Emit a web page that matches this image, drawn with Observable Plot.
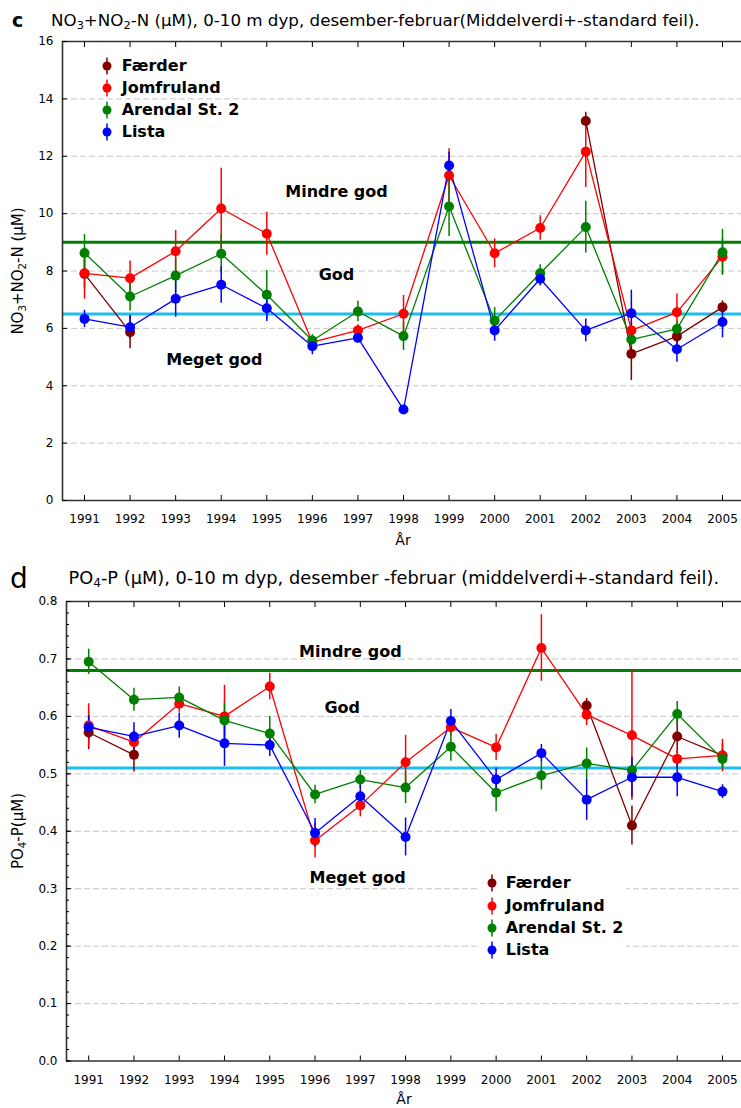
<!DOCTYPE html>
<html><head><meta charset="utf-8">
<script src="https://cdn.jsdelivr.net/npm/d3@7"></script>
<script src="https://cdn.jsdelivr.net/npm/@observablehq/plot@0.6"></script>
<style>
body{margin:0;background:#fff;}
#root{position:relative;width:741px;height:1108px;overflow:hidden;font-family:"DejaVu Sans",sans-serif;color:#000;}
.abs{position:absolute;white-space:nowrap;line-height:1;}
.sub{font-size:0.68em;position:relative;top:0.28em;}
.legend{position:absolute;background:#fff;}
.lrow{position:absolute;white-space:nowrap;font-weight:bold;font-size:16px;line-height:16px;}
.lmark{position:absolute;}
</style></head>
<body><div id="root"></div>
<script>
// ---- data ----
const years = [1991,1992,1993,1994,1995,1996,1997,1998,1999,2000,2001,2002,2003,2004,2005];
const stations = ["Færder","Jomfruland","Arendal St. 2","Lista"];
const stationColors = ["#800000","#ff0000","#008000","#0000ff"];

// NO3+NO2-N (µM), means and standard errors
const no3Faerder     = [7.90, 5.87, null, null, null, null, null, null, null, null, null, 13.23, 5.11, 5.72, 6.74];
const no3FaerderSE   = [0.50, 0.58, null, null, null, null, null, null, null, null, null, 0.30, 0.93, 0.30, 0.22];
const no3Jomfruland  = [7.92, 7.75, 8.69, 10.18, 9.30, 5.52, 5.93, 6.51, 11.33, 8.62, 9.50, 12.16, 5.93, 6.56, 8.50];
const no3JomfrulandSE= [0.90, 0.60, 0.72, 1.40, 0.75, 0.20, 0.20, 0.64, 0.93, 0.50, 0.43, 1.25, 0.30, 0.64, 0.62];
const no3Arendal     = [8.63, 7.11, 7.84, 8.60, 7.17, 5.58, 6.59, 5.73, 10.25, 6.27, 7.92, 9.53, 5.61, 5.98, 8.65];
const no3ArendalSE   = [0.64, 0.50, 0.60, 0.67, 0.85, 0.20, 0.36, 0.50, 1.05, 0.46, 0.30, 0.90, 0.25, 0.25, 0.80];
const no3Lista       = [6.33, 6.04, 7.03, 7.52, 6.70, 5.38, 5.67, 3.17, 11.68, 5.93, 7.73, 5.93, 6.53, 5.27, 6.22];
const no3ListaSE     = [0.30, 0.40, 0.64, 0.64, 0.46, 0.30, 0.15, 0.15, 0.46, 0.38, 0.25, 0.40, 0.80, 0.45, 0.55];
const no3Limits = [9, 6.5];
const no3Ticks = [0,2,4,6,8,10,12,14,16];
const no3Notes = [
  {label:"Mindre god", year:1996.53, value:10.77},
  {label:"God", year:1996.53, value:7.88},
  {label:"Meget god", year:1993.85, value:4.91}
];

// PO4-P (µM), means and standard errors
const po4Faerder     = [0.572, 0.533, null, null, null, null, null, null, null, null, null, 0.619, 0.410, 0.565, 0.532];
const po4FaerderSE   = [0.030, 0.030, null, null, null, null, null, null, null, null, null, 0.012, 0.034, 0.030, 0.020];
const po4Jomfruland  = [0.584, 0.555, 0.622, 0.600, 0.652, 0.384, 0.445, 0.520, 0.581, 0.546, 0.719, 0.603, 0.567, 0.526, 0.532];
const po4JomfrulandSE= [0.038, 0.020, 0.015, 0.054, 0.023, 0.030, 0.020, 0.047, 0.015, 0.023, 0.058, 0.019, 0.113, 0.015, 0.028];
const po4Arendal     = [0.695, 0.629, 0.633, 0.593, 0.570, 0.464, 0.490, 0.476, 0.547, 0.467, 0.497, 0.518, 0.506, 0.604, 0.526];
const po4ArendalSE   = [0.022, 0.020, 0.018, 0.030, 0.030, 0.016, 0.016, 0.028, 0.025, 0.033, 0.025, 0.027, 0.015, 0.022, 0.015];
const po4Lista       = [0.581, 0.565, 0.584, 0.553, 0.550, 0.397, 0.461, 0.390, 0.592, 0.490, 0.536, 0.455, 0.494, 0.494, 0.469];
const po4ListaSE     = [0.020, 0.024, 0.022, 0.040, 0.020, 0.025, 0.020, 0.033, 0.020, 0.020, 0.015, 0.036, 0.035, 0.034, 0.012];
const po4Limits = [0.68, 0.51];
const po4Ticks = [0,0.1,0.2,0.3,0.4,0.5,0.6,0.7,0.8];
const po4Notes = [
  {label:"Mindre god", year:1996.78, value:0.713},
  {label:"God", year:1996.60, value:0.615},
  {label:"Meget god", year:1996.94, value:0.318}
];

// ---- chart builder ----
function buildRows(values, errors) {
  const rows = [];
  stations.forEach((s, i) => years.forEach((y, j) =>
    rows.push({station: s, year: y, value: values[i][j], se: errors[i][j]})));
  return rows;
}

function makeChart(cfg) {
  const rows = buildRows(cfg.values, cfg.errors);
  const ok = rows.filter(d => d.value != null);
  const marks = [
    Plot.ruleY(cfg.ticks.slice(1, -1), {stroke:"#c6c6c6", strokeWidth:1, strokeDasharray:"6,3"}),
    Plot.ruleY([cfg.limits[0]], {stroke:"#008000", strokeWidth:3}),
    Plot.ruleY([cfg.limits[1]], {stroke:"#1cbdf0", strokeWidth:3}),
    Plot.text(cfg.notes, {x:"year", y:"value", text:"label", fontWeight:"bold", fontSize:16, fill:"#000"}),
    Plot.ruleX(ok, {x:"year", y1:d => d.value - d.se, y2:d => d.value + d.se, stroke:"station", strokeWidth:1.5}),
    Plot.line(rows, {x:"year", y:"value", z:"station", stroke:"station", strokeWidth:1.3}),
    Plot.dot(ok, {x:"year", y:"value", fill:"station", r:5}),
    Plot.ruleY([cfg.ticks[0], cfg.ticks[cfg.ticks.length - 1]], {stroke:"#333", strokeWidth:1.6}),
    Plot.ruleX([cfg.xDomain[0]], {stroke:"#333", strokeWidth:1.6}),
    Plot.axisY({ticks: cfg.ticks, tickSize:-5, tickPadding:14, tickFormat: cfg.yFormat, label:null, fontSize:12}),
    Plot.axisX({anchor:"bottom", ticks: years, tickSize:-5, tickPadding:19, tickFormat: d => String(d), label:null, fontSize:12}),
    Plot.axisX({anchor:"top", ticks: years, tickSize:-5, tickFormat: () => "", label:null})
  ];
  if (cfg.minor) marks.push(Plot.axisY({ticks: cfg.minor, tickSize:-3, tickFormat: () => "", label:null}));
  const svg = Plot.plot({
    width:741, height:cfg.height,
    marginTop:9, marginBottom:cfg.marginBottom, marginLeft:cfg.marginLeft, marginRight:0,
    x:{type:"linear", domain:cfg.xDomain},
    y:{domain:[cfg.ticks[0], cfg.ticks[cfg.ticks.length - 1]]},
    color:{domain:stations, range:stationColors},
    style:{fontFamily:"DejaVu Sans", fontSize:"12px", background:"transparent", color:"#000", overflow:"visible"},
    marks
  });
  svg.style.position = "absolute";
  svg.style.left = "0px";
  svg.style.top = cfg.top + "px";
  return svg;
}

const root = document.getElementById("root");

function addText(html, left, top, style) {
  const d = document.createElement("div");
  d.className = "abs";
  d.innerHTML = html;
  d.style.left = left + "px";
  d.style.top = top + "px";
  Object.assign(d.style, style || {});
  root.appendChild(d);
  return d;
}

function addLegend(box, x0, rowsY, textX) {
  const lg = document.createElement("div");
  lg.className = "legend";
  Object.assign(lg.style, {left: box[0] + "px", top: box[1] + "px", width: box[2] + "px", height: box[3] + "px",
    background: box[4] ? "#fff" : "transparent"});
  root.appendChild(lg);
  stations.forEach((s, i) => {
    const cy = rowsY[i];
    const m = document.createElement("div");
    m.className = "lmark";
    m.style.left = (x0 - 6 - box[0]) + "px";
    m.style.top = (cy - 9 - box[1]) + "px";
    m.innerHTML = `<svg width="12" height="18"><line x1="6" x2="6" y1="0.5" y2="17.5" stroke="${stationColors[i]}" stroke-width="1.5"/><circle cx="6" cy="9" r="4.5" fill="${stationColors[i]}"/></svg>`;
    lg.appendChild(m);
    const t = document.createElement("div");
    t.className = "lrow";
    t.textContent = s;
    t.style.left = (textX - box[0]) + "px";
    t.style.top = (cy - 7.7 - box[1]) + "px";
    lg.appendChild(t);
  });
}

// ---- top chart (c) ----
root.appendChild(makeChart({
  values:[no3Faerder, no3Jomfruland, no3Arendal, no3Lista],
  errors:[no3FaerderSE, no3JomfrulandSE, no3ArendalSE, no3ListaSE],
  limits:no3Limits, ticks:no3Ticks, notes:no3Notes,
  yFormat: d => String(d),
  xDomain:[1990.517, 2005.417],
  top:32, height:520, marginBottom:52, marginLeft:62
}));
addText("c", 12, 11, {fontWeight:"bold", fontSize:"19px"});
addText('NO<span class="sub">3</span>+NO<span class="sub">2</span>-N (µM), 0-10 m dyp, desember-februar(Middelverdi+-standard feil).', 51, 12, {fontSize:"16.7px"});
addText('NO<span class="sub">3</span>+NO<span class="sub">2</span>-N (µM)', 18, 270.5, {fontSize:"15px", transform:"translate(-50%,-50%) rotate(-90deg)"});
addText("År", 403, 533, {fontSize:"14px", transform:"translateX(-50%)"});
addLegend([95, 52, 140, 92, false], 106.7, [65.7, 87.5, 109.7, 131.7], 121.7);

// ---- bottom chart (d) ----
root.appendChild(makeChart({
  values:[po4Faerder, po4Jomfruland, po4Arendal, po4Lista],
  errors:[po4FaerderSE, po4JomfrulandSE, po4ArendalSE, po4ListaSE],
  limits:po4Limits, ticks:po4Ticks, notes:po4Notes,
  yFormat: d3.format(".1f"),
  minor: d3.ticks(0, 0.8, 40),
  xDomain:[1990.51, 2005.42],
  top:592, height:516, marginBottom:47.5, marginLeft:66
}));
addText("d", 10, 565.3, {fontSize:"28px"});
addText('PO<span class="sub">4</span>-P (µM), 0-10 m dyp, desember -februar (middelverdi+-standard feil).', 68.5, 569, {fontSize:"17.8px"});
addText('PO<span class="sub">4</span>-P(µM)', 18, 830.5, {fontSize:"15px", transform:"translate(-50%,-50%) rotate(-90deg)"});
addText("År", 404, 1092, {fontSize:"14px", transform:"translateX(-50%)"});
addLegend([477, 866, 149, 98, true], 491.5, [882.7, 905.7, 927.5, 950], 505.7);
</script>
</body></html>
